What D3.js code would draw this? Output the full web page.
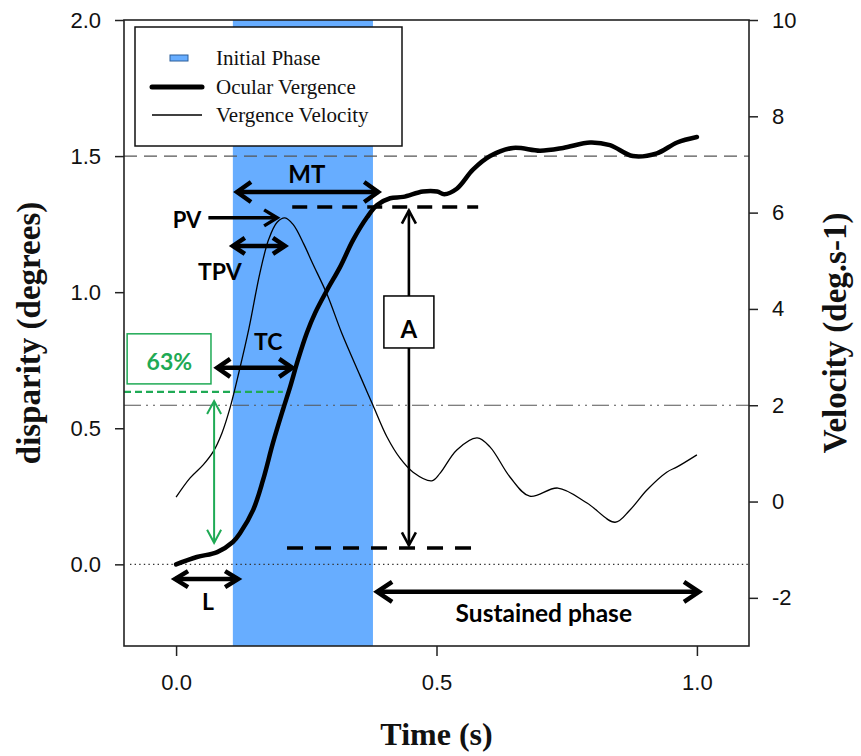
<!DOCTYPE html>
<html>
<head>
<meta charset="utf-8">
<script src="https://cdn.jsdelivr.net/npm/d3@7"></script>
<style>
  html, body { margin: 0; padding: 0; background: #fff; }
  svg { display: block; }
</style>
</head>
<body>
<div id="chart"></div>
<script>
// ---------- data ----------
const vergenceTime = [0, 0.040, 0.079, 0.109, 0.123, 0.148, 0.167, 0.186, 0.205, 0.219, 0.234, 0.251, 0.267, 0.290, 0.315, 0.340, 0.367, 0.386, 0.411, 0.436, 0.474, 0.501, 0.515, 0.539, 0.570, 0.603, 0.647, 0.699, 0.743, 0.795, 0.833, 0.877, 0.923, 0.962, 1.0];
const vergenceDisparity = [0.0, 0.027, 0.045, 0.082, 0.115, 0.20, 0.31, 0.446, 0.567, 0.652, 0.751, 0.85, 0.924, 1.008, 1.093, 1.192, 1.276, 1.32, 1.345, 1.35, 1.37, 1.37, 1.36, 1.38, 1.45, 1.50, 1.53, 1.52, 1.53, 1.55, 1.54, 1.50, 1.51, 1.55, 1.57];

const velocityTime = [0, 0.027, 0.052, 0.071, 0.088, 0.104, 0.121, 0.140, 0.161, 0.178, 0.194, 0.209, 0.225, 0.245, 0.262, 0.290, 0.318, 0.353, 0.378, 0.405, 0.430, 0.455, 0.491, 0.507, 0.539, 0.578, 0.603, 0.641, 0.679, 0.733, 0.789, 0.843, 0.871, 0.904, 0.942, 0.962, 1.0];
const velocityValues = [0.09, 0.49, 0.76, 1.03, 1.42, 1.96, 2.7, 3.6, 4.75, 5.45, 5.80, 5.89, 5.75, 5.35, 4.95, 4.3, 3.5, 2.62, 2.0, 1.34, 0.9, 0.61, 0.43, 0.59, 1.07, 1.32, 1.13, 0.51, 0.11, 0.28, -0.03, -0.43, -0.18, 0.24, 0.61, 0.72, 0.97];

const initialPhase = [0.109, 0.378];          // time range of initial phase
const disparityTicks = [0.0, 0.5, 1.0, 1.5, 2.0];
const velocityTicks = [-2, 0, 2, 4, 6, 8, 10];
const timeTicks = [0.0, 0.5, 1.0];
const targetDisparity = 1.5;
const velocityThreshold = 2;
const amplitudeTop = 1.313, amplitudeBottom = 0.06;
const level63 = 0.634;
const legendLabels = ["Initial Phase", "Ocular Vergence", "Vergence Velocity"];

// ---------- layout ----------
const W = 861, H = 756;
const L = 124, R = 749, T = 20, B = 646;

const svg = d3.select("#chart").append("svg").attr("width", W).attr("height", H);

const x = d3.scaleLinear().domain([-0.1, 1.1]).range([L, R]);
const yL = d3.scaleLinear().domain([-0.3, 2.0]).range([B, T]);
const yR = d3.scaleLinear().domain([-3, 10]).range([B, T]);

const BLUE = "#67adff";
const GREEN = "#1faa55";
const annFont = "Lato, 'Open Sans', sans-serif";

// initial phase band
svg.append("rect")
  .attr("x", x(initialPhase[0])).attr("y", T)
  .attr("width", x(initialPhase[1]) - x(initialPhase[0]))
  .attr("height", B - T)
  .attr("fill", BLUE);

// reference lines
svg.append("line")
  .attr("x1", L).attr("x2", R).attr("y1", yL(targetDisparity)).attr("y2", yL(targetDisparity))
  .attr("stroke", "#555").attr("stroke-width", 1.3).attr("stroke-dasharray", "13,7");
svg.append("line")
  .attr("x1", L).attr("x2", R).attr("y1", yR(velocityThreshold)).attr("y2", yR(velocityThreshold))
  .attr("stroke", "#555").attr("stroke-width", 1.2).attr("stroke-dasharray", "17,5,2,5,2,5");
svg.append("line")
  .attr("x1", L + 6).attr("x2", R).attr("y1", yL(0)).attr("y2", yL(0))
  .attr("stroke", "#333").attr("stroke-width", 1.4).attr("stroke-dasharray", "1.4,3.2");

// green 63% dashed
svg.append("line")
  .attr("x1", x(-0.1)).attr("x2", x(0.205)).attr("y1", yL(level63)).attr("y2", yL(level63))
  .attr("stroke", GREEN).attr("stroke-width", 2.2).attr("stroke-dasharray", "7,4");

// amplitude dashed lines
svg.append("line")
  .attr("x1", x(0.223)).attr("x2", x(0.58)).attr("y1", yL(amplitudeTop)).attr("y2", yL(amplitudeTop))
  .attr("stroke", "#000").attr("stroke-width", 3.5).attr("stroke-dasharray", "15,10");
svg.append("line")
  .attr("x1", x(0.213)).attr("x2", x(0.57)).attr("y1", yL(amplitudeBottom)).attr("y2", yL(amplitudeBottom))
  .attr("stroke", "#000").attr("stroke-width", 3.5).attr("stroke-dasharray", "16,12");

// curves
const velLine = d3.line().x(d => x(d[0])).y(d => yR(d[1])).curve(d3.curveCatmullRom.alpha(0.5));
svg.append("path")
  .datum(velocityTime.map((t, i) => [t, velocityValues[i]]))
  .attr("d", velLine).attr("fill", "none").attr("stroke", "#000").attr("stroke-width", 1.3);

const vergLine = d3.line().x(d => x(d[0])).y(d => yL(d[1])).curve(d3.curveCatmullRom.alpha(0.5));
svg.append("path")
  .datum(vergenceTime.map((t, i) => [t, vergenceDisparity[i]]))
  .attr("d", vergLine).attr("fill", "none").attr("stroke", "#000").attr("stroke-width", 4.5)
  .attr("stroke-linecap", "round");

// ---------- arrows ----------
function arrow(t1, d1, t2, d2, opt) {
  const o = Object.assign({ both: false, w: 4, len: 13, half: 9, color: "#000" }, opt || {});
  const x1 = x(t1), y1 = yL(d1), x2 = x(t2), y2 = yL(d2);
  const g = svg.append("g").attr("stroke", o.color).attr("fill", "none")
    .attr("stroke-width", o.w).attr("stroke-linejoin", "miter").attr("stroke-miterlimit", 10);
  g.append("line").attr("x1", x1).attr("y1", y1).attr("x2", x2).attr("y2", y2);
  const head = (px, py, qx, qy) => {
    const dx = px - qx, dy = py - qy, n = Math.hypot(dx, dy);
    const ux = dx / n, uy = dy / n, nx = -uy, ny = ux;
    const bx = px - ux * o.len, by = py - uy * o.len;
    g.append("path").attr("d",
      `M${bx + nx * o.half},${by + ny * o.half}L${px},${py}L${bx - nx * o.half},${by - ny * o.half}`);
  };
  head(x2, y2, x1, y1);
  if (o.both) head(x1, y1, x2, y2);
}

function label(t, d, text, size, color, anchor) {
  svg.append("text").attr("x", x(t)).attr("y", yL(d))
    .attr("text-anchor", anchor || "middle")
    .attr("font-family", annFont).attr("font-weight", "bold")
    .attr("font-size", size).attr("fill", color || "#000").text(text);
}

// MT
arrow(0.117, 1.368, 0.388, 1.368, { both: true, w: 4.5, len: 14, half: 10 });
label(0.251, 1.40, "MT", 24);
// PV
arrow(0.062, 1.273, 0.194, 1.273, { w: 3.5, len: 13, half: 8 });
label(0.021, 1.236, "PV", 22);
// TPV
arrow(0.109, 1.17, 0.209, 1.17, { both: true, w: 4.5, len: 12, half: 8 });
label(0.084, 1.045, "TPV", 23);
// TC
arrow(0.079, 0.722, 0.223, 0.722, { both: true, w: 4.5, len: 13, half: 9 });
label(0.177, 0.788, "TC", 23);
// A
arrow(0.447, 1.30, 0.447, 0.07, { both: true, w: 2.6, len: 13, half: 7 });
svg.append("rect")
  .attr("x", x(0.399)).attr("y", yL(0.986))
  .attr("width", x(0.495) - x(0.399)).attr("height", yL(0.795) - yL(0.986))
  .attr("fill", "#fff").attr("stroke", "#000").attr("stroke-width", 1.5);
label(0.447, 0.83, "A", 24);
// 63%
svg.append("rect")
  .attr("x", x(-0.094)).attr("y", yL(0.847))
  .attr("width", x(0.067) - x(-0.094)).attr("height", yL(0.663) - yL(0.847))
  .attr("fill", "#fff").attr("stroke", GREEN).attr("stroke-width", 1.5);
label(-0.013, 0.714, "63%", 23, GREEN);
arrow(0.073, 0.60, 0.073, 0.079, { both: true, w: 2, len: 13, half: 7, color: GREEN });
// L
arrow(-0.002, -0.054, 0.119, -0.054, { both: true, w: 4.5, len: 13, half: 8 });
label(0.061, -0.167, "L", 23);
// Sustained phase
arrow(0.386, -0.101, 1.004, -0.101, { both: true, w: 4.5, len: 15, half: 10 });
label(0.706, -0.212, "Sustained phase", 24.5);

// ---------- legend ----------
const lg = svg.append("g");
lg.append("rect").attr("x", 135).attr("y", 27).attr("width", 267).attr("height", 119)
  .attr("fill", "#fff").attr("stroke", "#111").attr("stroke-width", 1.5);
lg.append("rect").attr("x", 170).attr("y", 55).attr("width", 18).attr("height", 6)
  .attr("fill", BLUE).attr("stroke", "#2d5f9a").attr("stroke-width", 1);
lg.append("line").attr("x1", 152).attr("x2", 202).attr("y1", 87).attr("y2", 87)
  .attr("stroke", "#000").attr("stroke-width", 5).attr("stroke-linecap", "round");
lg.append("line").attr("x1", 152).attr("x2", 202).attr("y1", 115).attr("y2", 115)
  .attr("stroke", "#000").attr("stroke-width", 1.3);
legendLabels.forEach((s, i) => {
  lg.append("text").attr("x", 216).attr("y", 65 + i * 28.5)
    .attr("font-family", "'Liberation Serif', 'Times New Roman', serif")
    .attr("font-size", 21).attr("fill", "#111").text(s);
});

// ---------- axes ----------
const tickFont = "'Liberation Sans', Arial, sans-serif";
function styleAxis(g) {
  g.selectAll(".domain").remove();
  g.selectAll(".tick line").attr("stroke", "#222").attr("stroke-width", 1.5);
  g.selectAll(".tick text").attr("font-family", tickFont).attr("font-size", 22).attr("fill", "#111");
}
svg.append("g").attr("transform", `translate(${L},0)`)
  .call(d3.axisLeft(yL).tickValues(disparityTicks).tickFormat(d3.format(".1f")).tickSize(9).tickPadding(14))
  .call(styleAxis);
svg.append("g").attr("transform", `translate(${R},0)`)
  .call(d3.axisRight(yR).tickValues(velocityTicks).tickFormat(d => String(d)).tickSize(9).tickPadding(14))
  .call(styleAxis);
svg.append("g").attr("transform", `translate(0,${B})`)
  .call(d3.axisBottom(x).tickValues(timeTicks).tickFormat(d3.format(".1f")).tickSize(10).tickPadding(18))
  .call(styleAxis);

// frame
svg.append("rect").attr("x", L).attr("y", T).attr("width", R - L).attr("height", B - T)
  .attr("fill", "none").attr("stroke", "#222").attr("stroke-width", 1.6);

// titles
const titleFont = "'Liberation Serif', 'Times New Roman', serif";
svg.append("text").attr("transform", `translate(40,${(T + B) / 2}) rotate(-90)`)
  .attr("text-anchor", "middle").attr("font-family", titleFont).attr("font-weight", "bold")
  .attr("font-size", 33).attr("fill", "#111").text("disparity (degrees)");
svg.append("text").attr("transform", `translate(846,${(T + B) / 2}) rotate(-90)`)
  .attr("text-anchor", "middle").attr("font-family", titleFont).attr("font-weight", "bold")
  .attr("font-size", 33).attr("fill", "#111").text("Velocity (deg.s-1)");
svg.append("text").attr("x", (L + R) / 2).attr("y", 745)
  .attr("text-anchor", "middle").attr("font-family", titleFont).attr("font-weight", "bold")
  .attr("font-size", 32).attr("fill", "#111").text("Time (s)");
</script>
</body>
</html>
